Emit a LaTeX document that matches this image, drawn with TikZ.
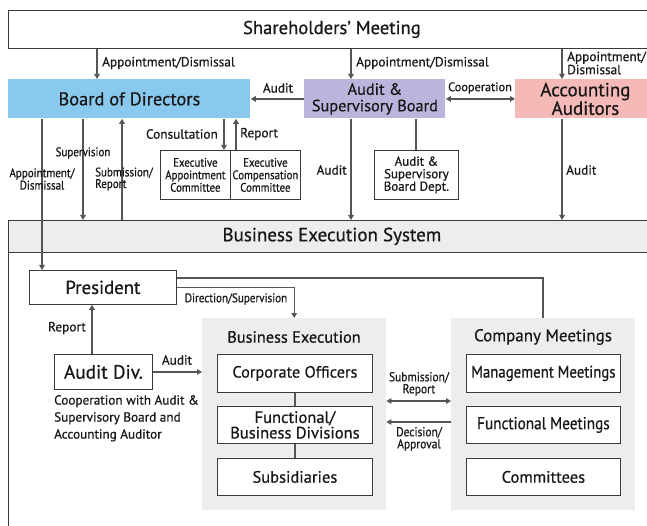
\documentclass[tikz,border=0pt]{standalone}
\usepackage{fontspec}
\setmainfont{PT Sans}[FakeBold=0.6]
\newfontfamily\condfont{PT Sans}[FakeStretch=0.88,FakeBold=0.6]
\usetikzlibrary{arrows.meta,calc}
\definecolor{bodblue}{HTML}{89C9EE}
\definecolor{asbpurple}{HTML}{B9B5DC}
\definecolor{aapink}{HTML}{F5B9B8}
\definecolor{panelgray}{HTML}{EDEDED}
\definecolor{linegray}{HTML}{555555}
\definecolor{boxline}{HTML}{3A3A3A}
\definecolor{txt}{HTML}{1A1718}
\tikzset{
  box/.style={draw=boxline, line width=0.8pt, anchor=north west, inner sep=0pt, align=center, text=txt},
  panel/.style={fill=panelgray, draw=none, anchor=north west, inner sep=0pt},
  arr/.style={draw=linegray, line width=1.3pt, -{Triangle[length=5pt,width=5.5pt]}},
  darr/.style={draw=linegray, line width=1.3pt, {Triangle[length=5pt,width=5.5pt]}-{Triangle[length=5pt,width=5.5pt]}},
  ln/.style={draw=linegray, line width=1.3pt},
  lbl/.style={inner sep=0pt, text=txt, font=\fontsize{13.3}{14}\selectfont},
  clbl/.style={inner sep=0pt, text=txt, align=center, font=\condfont\fontsize{12.5}{11}\selectfont},
}
\begin{document}
\begin{tikzpicture}[x=1pt,y=-1pt]
\useasboundingbox (0,0) rectangle (647,526);
\clip (0,0) rectangle (647,526);
\fill[white] (0,0) rectangle (647,526);
% x positions
\coordinate (xA) at (97,0);
\coordinate (xB) at (351,0);
\coordinate (xC) at (562,0);
\coordinate (x1) at (42,0);
\coordinate (x2) at (83,0);
\coordinate (x3) at (122,0);
\coordinate (x4) at (224,0);
\coordinate (x5) at (236,0);
\coordinate (x6) at (416,0);
\coordinate (x7) at (92,0);
\coordinate (xM) at (543,0);
\coordinate (y1) at (0,401);
\coordinate (y2) at (0,422);
\coordinate (y3) at (0,278);

% top boxes
\node[box, minimum width=647pt, minimum height=38pt, font=\fontsize{18.6}{20}\selectfont] (sh) at (8,10) {Shareholders' Meeting};
\node[box, draw=none, fill=bodblue, minimum width=242pt, minimum height=39pt, font=\fontsize{18.4}{18}\selectfont] (bod) at (8,79) {Board of Directors};
\node[box, draw=none, fill=asbpurple, minimum width=141pt, minimum height=39pt, font=\fontsize{16.3}{16.5}\selectfont] (asb) at (304,79) {Audit \&\\Supervisory Board};
\node[box, draw=none, fill=aapink, minimum width=140pt, minimum height=39pt, font=\fontsize{19}{16.8}\selectfont] (aa) at (515,79) {Accounting\\Auditors};

\node[box, minimum width=70pt, minimum height=49pt, font=\condfont\fontsize{12.3}{12.5}\selectfont] (com1) at (160,150) {Executive\\Appointment\\Committee};
\node[box, minimum width=70pt, minimum height=49pt, font=\condfont\fontsize{12.3}{12.5}\selectfont] (com2) at (230,150) {Executive\\Compensation\\Committee};
\node[box, minimum width=84pt, minimum height=49pt, font=\fontsize{13}{12.5}\selectfont] (asbd) at (374,150) {Audit \&\\Supervisory\\Board Dept.};

% Business execution system
\draw[boxline, line width=0.8pt] (8,220) rectangle (660,540);
\node[box, fill=panelgray, minimum width=647pt, minimum height=32pt, font=\fontsize{19}{18}\selectfont] (bes) at (8,220) {Business Execution System};

\node[box, minimum width=147pt, minimum height=34pt, font=\fontsize{18.8}{18}\selectfont] (pres) at (29,270) {President};

\node[panel, minimum width=184pt, minimum height=192pt] (bep) at (202,318) {};
\node[panel, minimum width=184pt, minimum height=192pt] (cmp) at (451,318) {};
\node[lbl, font=\fontsize{16.3}{16}\selectfont] (bept) at (294,337) {Business Execution};
\node[lbl, font=\fontsize{17}{16}\selectfont] (cmpt) at (543,337) {Company Meetings};

\node[box, fill=white, minimum width=155pt, minimum height=38pt, font=\fontsize{16.3}{16}\selectfont] (co) at (217,354) {Corporate Officers};
\node[box, fill=white, minimum width=155pt, minimum height=37pt, font=\fontsize{16.5}{15.5}\selectfont] (fbd) at (217,406) {Functional/\\Business Divisions};
\node[box, fill=white, minimum width=155pt, minimum height=37pt, font=\fontsize{16.5}{16}\selectfont] (sub) at (217,458) {Subsidiaries};
\node[box, fill=white, minimum width=154pt, minimum height=38pt, font=\condfont\fontsize{16.8}{16}\selectfont] (mm) at (466,354) {Management Meetings};
\node[box, fill=white, minimum width=154pt, minimum height=37pt, font=\condfont\fontsize{17.3}{16}\selectfont] (fm) at (466,406) {Functional Meetings};
\node[box, fill=white, minimum width=154pt, minimum height=37pt, font=\fontsize{16.5}{16}\selectfont] (cm) at (466,458) {Committees};

\node[box, minimum width=98pt, minimum height=35pt, font=\fontsize{19.3}{18}\selectfont] (ad) at (54,354) {Audit Div.};

% connectors top
\draw[arr] (sh.south -| xA) -- (bod.north -| xA);
\draw[arr] (sh.south -| xB) -- (asb.north -| xB);
\draw[arr] (sh.south -| xC) -- (aa.north -| xC);
\node[lbl, anchor=west] (l1) at (102,63) {Appointment/Dismissal};
\node[lbl, anchor=west] (l2) at (356,63) {Appointment/Dismissal};
\node[lbl, anchor=west, align=left, font=\fontsize{13.3}{10.5}\selectfont] (l3) at (567,63) {Appointment/\\Dismissal};

\draw[arr] (asb.west) -- (bod.east);
\node[lbl] (l4) at (278,88) {Audit};
\draw[darr] (asb.east) -- (aa.west);
\node[lbl, font=\fontsize{12.3}{12}\selectfont] (l5) at (480,88) {Cooperation};

% below board
\draw[arr] (bod.south -| x1) -- (pres.north -| x1);
\draw[arr] (bod.south -| x2) -- (bes.north -| x2);
\draw[arr] (bes.north -| x3) -- (bod.south -| x3);
\node[clbl, font=\condfont\fontsize{12.5}{10}\selectfont] (l6) at (42,179) {Appointment/\\Dismissal};
\node[clbl] (l7) at (83,153) {Supervision};
\node[clbl, anchor=west, align=left, font=\condfont\fontsize{12.5}{10}\selectfont] (l8) at (95,179) {Submission/\\Report};

\draw[arr] (bod.south -| x4) -- (com1.north -| x4);
\draw[arr] (com2.north -| x5) -- (bod.south -| x5);
\node[lbl, anchor=east] (l9) at (218,134) {Consultation};
\node[lbl, anchor=west] (l10) at (240,134) {Report};

\draw[arr] (asb.south -| xB) -- (bes.north -| xB);
\node[lbl, anchor=east] (l11) at (347,170) {Audit};
\draw[ln] (asb.south -| x6) -- (asbd.north -| x6);
\draw[arr] (aa.south -| xC) -- (bes.north -| xC);
\node[lbl, anchor=west] (l12) at (566,170) {Audit};

% inside business execution system
\draw[ln] (pres.east |- y3) -- (y3 -| xM) -- (cmp.north -| xM);
\draw[arr] (pres.east) -| (bep.north);
\node[clbl, font=\condfont\fontsize{12.6}{12}\selectfont] (l13) at (236,299) {Direction/Supervision};

\draw[arr] (ad.north -| x7) -- (pres.south -| x7);
\node[lbl] (l14) at (67,328) {Report};
\draw[arr] (ad.east) -- (ad.east -| bep.west);
\node[lbl] (l15) at (177,360) {Audit};
\node[lbl, anchor=north west, align=left, font=\fontsize{13.2}{17}\selectfont] (l16) at (54,395) {Cooperation with Audit \&\\Supervisory Board and\\Accounting Auditor};

\draw[ln] (co.south) -- (fbd.north);
\draw[ln] (fbd.south) -- (sub.north);

\draw[darr] (bep.east |- y1) -- (cmp.west |- y1);
\draw[arr] (cmp.west |- y2) -- (bep.east |- y2);
\node[clbl, font=\condfont\fontsize{13}{10.5}\selectfont] (l17) at (419,384) {Submission/\\Report};
\node[clbl, font=\condfont\fontsize{13}{10.5}\selectfont] (l18) at (419,439) {Decision/\\Approval};
\end{tikzpicture}
\end{document}
